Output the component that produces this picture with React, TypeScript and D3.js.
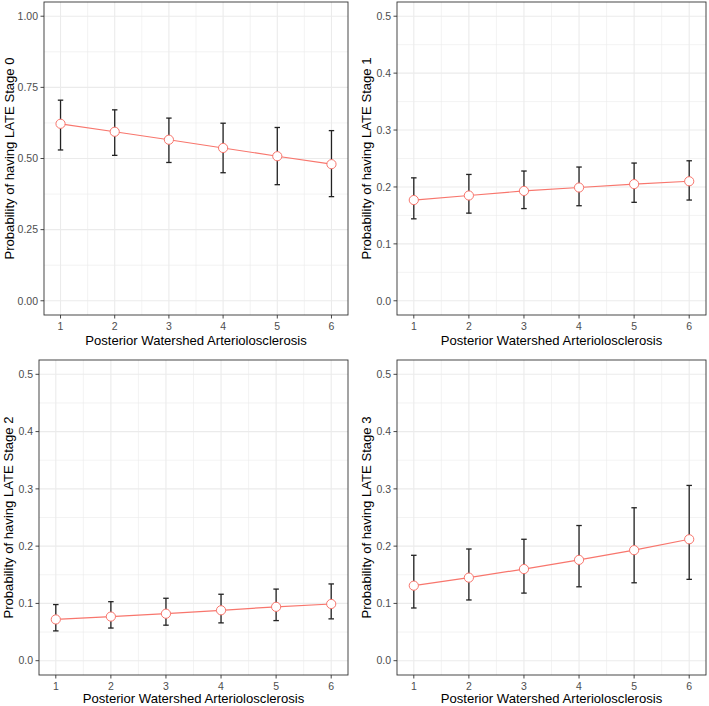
import React from "react";
import * as d3 from "d3";

// Posterior watershed arteriolosclerosis score (x)
const pwaScores = [1, 2, 3, 4, 5, 6];

// Predicted probability of each LATE stage, with 95% CI
const stage0Fit = [0.622, 0.594, 0.566, 0.537, 0.508, 0.48];
const stage0Lower = [0.53, 0.511, 0.486, 0.45, 0.408, 0.366];
const stage0Upper = [0.705, 0.671, 0.642, 0.624, 0.609, 0.598];

const stage1Fit = [0.177, 0.185, 0.193, 0.199, 0.205, 0.21];
const stage1Lower = [0.144, 0.154, 0.162, 0.167, 0.173, 0.177];
const stage1Upper = [0.216, 0.222, 0.228, 0.235, 0.242, 0.246];

const stage2Fit = [0.072, 0.077, 0.082, 0.088, 0.094, 0.099];
const stage2Lower = [0.052, 0.057, 0.062, 0.066, 0.07, 0.073];
const stage2Upper = [0.098, 0.103, 0.109, 0.116, 0.125, 0.134];

const stage3Fit = [0.131, 0.145, 0.16, 0.176, 0.193, 0.212];
const stage3Lower = [0.092, 0.106, 0.118, 0.129, 0.136, 0.142];
const stage3Upper = [0.184, 0.195, 0.212, 0.236, 0.267, 0.306];

const ticksWide = [0, 0.25, 0.5, 0.75, 1];
const ticksNarrow = [0, 0.1, 0.2, 0.3, 0.4, 0.5];

const xTitle = "Posterior Watershed Arteriolosclerosis";

const W = 709;
const H = 706;
const FONT = "Arial, 'Liberation Sans', Helvetica, sans-serif";
const LINE = "#F8766D";

type PanelSpec = {
  stage: number;
  fit: number[];
  lower: number[];
  upper: number[];
  yTicks: number[];
  yMax: number;
  digits: number;
  box: { x0: number; x1: number; y0: number; y1: number };
  titleX: number;
  xTitleGap: number;
};

const panels: PanelSpec[] = [
  { stage: 0, fit: stage0Fit, lower: stage0Lower, upper: stage0Upper, yTicks: ticksWide, yMax: 1, digits: 2,
    box: { x0: 44, x1: 348, y0: 2, y1: 315 }, titleX: 9, xTitleGap: 30 },
  { stage: 1, fit: stage1Fit, lower: stage1Lower, upper: stage1Upper, yTicks: ticksNarrow, yMax: 0.5, digits: 1,
    box: { x0: 397, x1: 706, y0: 2, y1: 315 }, titleX: 366, xTitleGap: 30 },
  { stage: 2, fit: stage2Fit, lower: stage2Lower, upper: stage2Upper, yTicks: ticksNarrow, yMax: 0.5, digits: 1,
    box: { x0: 39, x1: 348, y0: 360, y1: 675 }, titleX: 8, xTitleGap: 27.5 },
  { stage: 3, fit: stage3Fit, lower: stage3Lower, upper: stage3Upper, yTicks: ticksNarrow, yMax: 0.5, digits: 1,
    box: { x0: 397, x1: 706, y0: 360, y1: 675 }, titleX: 366, xTitleGap: 27.5 },
];

function Panel({ p }: { p: PanelSpec }) {
  const { x0, x1, y0, y1 } = p.box;
  const pad = p.yMax * 0.05;
  const x = d3.scaleLinear().domain([0.695, 6.305]).range([x0, x1]);
  const y = d3.scaleLinear().domain([-pad, p.yMax + pad]).range([y1, y0]);

  const step = p.yTicks[1] - p.yTicks[0];
  const yMinor = p.yTicks.slice(0, -1).map((t) => t + step / 2);
  const xMinor = pwaScores.slice(0, -1).map((t) => t + 0.5);
  const fmt = d3.format(`.${p.digits}f`);

  const line = d3
    .line<number>()
    .x((_, i) => x(pwaScores[i]))
    .y((d) => y(d));

  const capHalf = 0.05;
  const cy = (y0 + y1) / 2;

  return (
    <g>
      <rect x={x0} y={y0} width={x1 - x0} height={y1 - y0} fill="#fff" />
      {yMinor.map((t) => (
        <line key={"ym" + t} x1={x0} x2={x1} y1={y(t)} y2={y(t)} stroke="#EBEBEB" strokeWidth={0.6} />
      ))}
      {xMinor.map((t) => (
        <line key={"xm" + t} y1={y0} y2={y1} x1={x(t)} x2={x(t)} stroke="#EBEBEB" strokeWidth={0.6} />
      ))}
      {p.yTicks.map((t) => (
        <line key={"yM" + t} x1={x0} x2={x1} y1={y(t)} y2={y(t)} stroke="#EBEBEB" strokeWidth={1.1} />
      ))}
      {pwaScores.map((t) => (
        <line key={"xM" + t} y1={y0} y2={y1} x1={x(t)} x2={x(t)} stroke="#EBEBEB" strokeWidth={1.1} />
      ))}

      <path d={line(p.fit) || ""} fill="none" stroke={LINE} strokeWidth={1.2} />

      {pwaScores.map((s, i) => (
        <g key={"eb" + s} stroke="#222" strokeWidth={1.3}>
          <line x1={x(s)} x2={x(s)} y1={y(p.lower[i])} y2={y(p.upper[i])} />
          <line x1={x(s - capHalf)} x2={x(s + capHalf)} y1={y(p.lower[i])} y2={y(p.lower[i])} />
          <line x1={x(s - capHalf)} x2={x(s + capHalf)} y1={y(p.upper[i])} y2={y(p.upper[i])} />
        </g>
      ))}

      {pwaScores.map((s, i) => (
        <circle key={"pt" + s} cx={x(s)} cy={y(p.fit[i])} r={4.6} fill="#fff" stroke={LINE} strokeWidth={1} />
      ))}

      <rect x={x0} y={y0} width={x1 - x0} height={y1 - y0} fill="none" stroke="#333" strokeWidth={0.9} />

      {p.yTicks.map((t) => (
        <g key={"yt" + t}>
          <line x1={x0 - 3.5} x2={x0} y1={y(t)} y2={y(t)} stroke="#333" strokeWidth={0.9} />
          <text x={x0 - 6} y={y(t)} dy="0.36em" textAnchor="end" fontSize={10.5} fill="#4D4D4D" fontFamily={FONT}>
            {fmt(t)}
          </text>
        </g>
      ))}
      {pwaScores.map((t) => (
        <g key={"xt" + t}>
          <line x1={x(t)} x2={x(t)} y1={y1} y2={y1 + 3.5} stroke="#333" strokeWidth={0.9} />
          <text x={x(t)} y={y1 + 14.5} textAnchor="middle" fontSize={10.5} fill="#4D4D4D" fontFamily={FONT}>
            {t}
          </text>
        </g>
      ))}

      <text x={(x0 + x1) / 2} y={y1 + p.xTitleGap} textAnchor="middle" fontSize={13.1} fill="#000" fontFamily={FONT}>
        {xTitle}
      </text>
      <text
        transform={`translate(${p.titleX},${cy}) rotate(-90)`}
        dy="0.36em"
        textAnchor="middle"
        fontSize={13.1}
        fill="#000"
        fontFamily={FONT}
      >
        {`Probability of having LATE Stage ${p.stage}`}
      </text>
    </g>
  );
}

export default function App() {
  return (
    <svg
      width={W}
      height={H}
      viewBox={`0 0 ${W} ${H}`}
      style={{ position: "absolute", left: 0, top: 0, background: "#fff" }}
    >
      <rect width={W} height={H} fill="#fff" />
      {panels.map((p) => (
        <Panel key={p.stage} p={p} />
      ))}
    </svg>
  );
}
